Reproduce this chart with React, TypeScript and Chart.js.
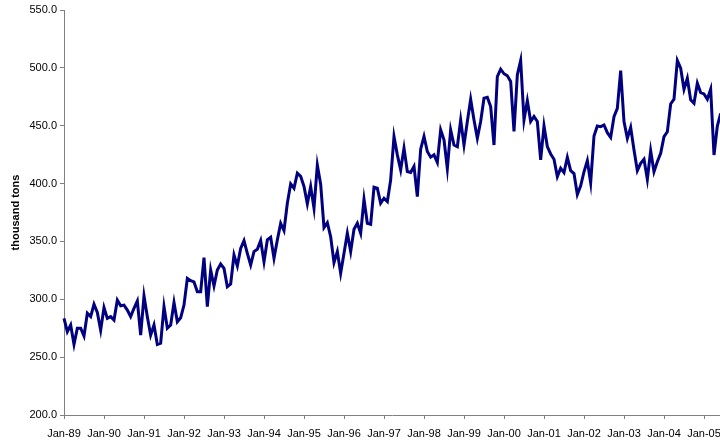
import React, { useEffect, useRef } from "react";
import { Chart, registerables } from "chart.js";

Chart.register(...registerables);

// Monthly values (thousand tons), Jan-89 .. Jun-05
const y1989 = [283.5, 272, 277.8, 261, 275, 275, 268.3, 287.9, 285, 295.7, 288.6, 273.3];
const y1990 = [292.8, 283.5, 285, 282, 299.3, 294.4, 295, 290.7, 285, 292.2, 298.5, 269];
const y1991 = [303, 285, 269, 277.8, 261, 262, 293.7, 275, 277.8, 297.3, 280.5, 284];
const y1992 = [295, 318, 316, 315, 306.6, 306.6, 336, 293.6, 325.3, 311.5, 325.3, 330.5];
const y1993 = [326.7, 310.9, 313.2, 338.3, 328.8, 344, 350.7, 339.7, 329.6, 341.2, 343.2, 350.7];
const y1994 = [332.5, 351.3, 353.6, 335.4, 351.3, 365.7, 359.4, 383, 399.8, 396, 409, 406.2];
const y1995 = [397.5, 382.5, 397.5, 378.7, 416, 399.5, 362, 366.2, 354.1, 331.7, 341.2, 322.4];
const y1996 = [339.7, 357, 341.2, 360.5, 365.7, 357, 386.4, 365.7, 364.8, 396.8, 396, 383];
const y1997 = [387.3, 384.4, 403.2, 440.7, 424.8, 411.9, 430.6, 410.4, 409.6, 414.8, 388.8, 429.7];
const y1998 = [440.7, 427.7, 422.8, 424.8, 418.2, 446.4, 437.8, 413, 446.4, 433.3, 431.9, 455];
const y1999 = [433.3, 453.6, 472.9, 455, 439.1, 453.6, 473.8, 474.6, 466.5, 433.3, 492.5, 498.9];
const y2000 = [494.9, 493.1, 488.2, 445, 494, 506.4, 455, 471.7, 453.6, 458, 453.6, 420.5];
const y2001 = [449.9, 432, 425.6, 421, 406, 413.2, 409.5, 422.7, 411.2, 408.6, 390.5, 398];
const y2002 = [410.2, 419.8, 400.8, 441.1, 449.7, 449.2, 450.6, 444, 439.9, 457.8, 465, 497.6];
const y2003 = [453.6, 439.1, 448.6, 429, 411.2, 417.5, 421, 403.7, 428.4, 410.2, 418.8, 426.1];
const y2004 = [440.5, 444.8, 468.8, 472.9, 506.3, 499.7, 481.5, 491, 472.3, 469.4, 486.7, 478.6];
const y2005 = [477.5, 472.9, 481.5, 424.7, 449.7, 460.7];

const values: number[] = [
  ...y1989, ...y1990, ...y1991, ...y1992, ...y1993, ...y1994, ...y1995, ...y1996,
  ...y1997, ...y1998, ...y1999, ...y2000, ...y2001, ...y2002, ...y2003, ...y2004, ...y2005,
];

const yearTickLabels = [
  "Jan-89", "Jan-90", "Jan-91", "Jan-92", "Jan-93", "Jan-94", "Jan-95", "Jan-96",
  "Jan-97", "Jan-98", "Jan-99", "Jan-00", "Jan-01", "Jan-02", "Jan-03", "Jan-04", "Jan-05",
];

const yMin = 200;
const yMax = 550;
const yStep = 50;
const yTitle = "thousand tons";

const FONT = "Arial, 'Liberation Sans', sans-serif";

export default function App() {
  const ref = useRef<HTMLCanvasElement | null>(null);

  useEffect(() => {
    if (!ref.current) return;
    const chart = new Chart(ref.current, {
      type: "line",
      data: {
        datasets: [
          {
            data: values.map((v, i) => ({ x: i, y: v })),
            borderColor: "#000080",
            borderWidth: 3,
            pointRadius: 0,
            tension: 0,
            fill: false,
            clip: false,
          },
        ],
      },
      options: {
        responsive: false,
        animation: false,
        layout: { padding: { top: 10, right: 0, bottom: 0, left: 0 } },
        plugins: { legend: { display: false }, tooltip: { enabled: false } },
        scales: {
          x: {
            type: "linear",
            min: 0,
            max: (720 - 64) / (40 / 12),
            grid: { drawOnChartArea: false, drawTicks: true, tickLength: 4, color: "#808080" },
            border: { color: "#808080", width: 1 },
            ticks: {
              stepSize: 12,
              includeBounds: false,
              autoSkip: false,
              maxRotation: 0,
              padding: 8,
              color: "#000",
              font: { family: FONT, size: 11 },
              callback: (v: any) => {
                const k = Number(v) / 12;
                return Number.isInteger(k) && yearTickLabels[k] ? yearTickLabels[k] : "";
              },
            },
            afterFit: (axis: any) => {
              axis.height = 26;
              axis.paddingLeft = 0;
              axis.paddingRight = 0;
            },
          },
          y: {
            min: yMin,
            max: yMax,
            grid: { drawOnChartArea: false, drawTicks: true, tickLength: 4, color: "#808080" },
            border: { color: "#808080", width: 1 },
            ticks: {
              stepSize: yStep,
              padding: 3,
              color: "#000",
              font: { family: FONT, size: 11 },
              callback: (v: any) => Number(v).toFixed(1),
            },
            title: {
              display: true,
              text: yTitle,
              color: "#000",
              font: { family: FONT, size: 11, weight: "bold" },
              padding: { top: 9, bottom: 0 },
            },
            afterFit: (axis: any) => {
              axis.width = 64;
              axis.paddingTop = 0;
              axis.paddingBottom = 0;
            },
          },
        },
      },
    });
    return () => chart.destroy();
  }, []);

  return (
    <div style={{ position: "fixed", left: 0, top: 0, width: 720, height: 441, background: "#fff" }}>
      <canvas ref={ref} width={720} height={441} style={{ display: "block" }} />
    </div>
  );
}
